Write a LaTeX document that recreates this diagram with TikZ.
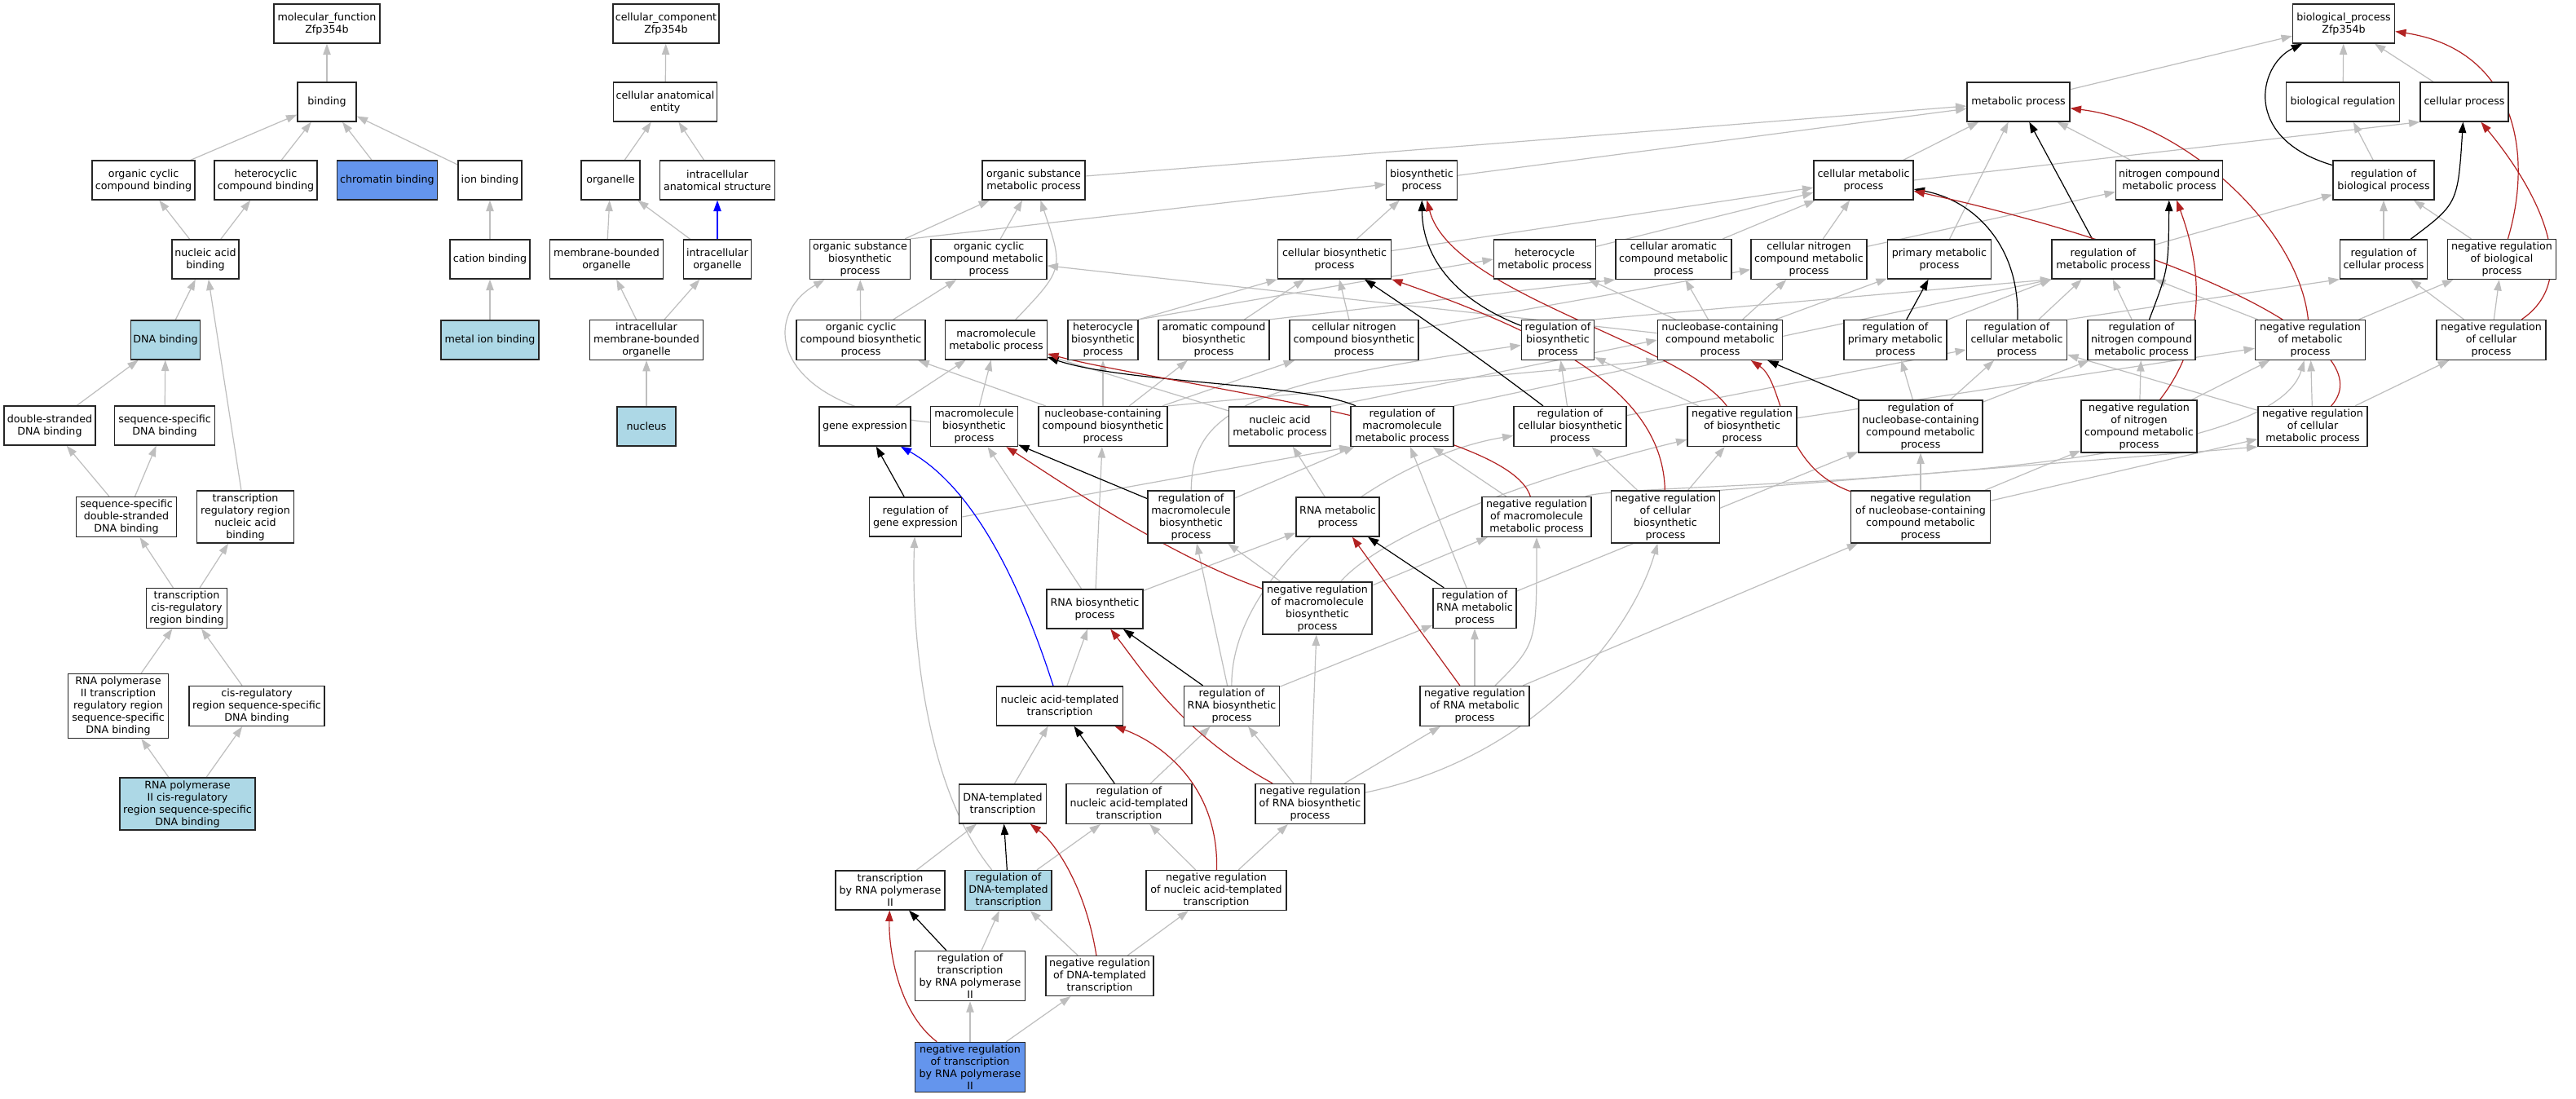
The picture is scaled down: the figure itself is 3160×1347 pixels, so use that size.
\documentclass[tikz,border=0pt]{standalone}
\usepackage{fontspec}
\setmainfont{DejaVu Sans}
\usetikzlibrary{arrows.meta,backgrounds}
\definecolor{isagray}{HTML}{BEBEBE}
\definecolor{negred}{HTML}{B22222}
\definecolor{termblue}{HTML}{ADD8E6}
\definecolor{hitblue}{HTML}{6495ED}
\begin{document}
\begin{tikzpicture}[x=0.75pt,y=-0.75pt,
  term/.style={draw=black!85,line width=1pt,fill=white,align=center,inner xsep=1pt,inner ysep=2.5pt,minimum height=36pt,font=\fontsize{9.5}{11.25}\selectfont},
  wd/.style={minimum width={#1*0.75pt}},
  isa/.style={draw=isagray,line width=0.9pt,-{Triangle[length=10pt,width=7pt]}},
  reg/.style={isa,draw=black},
  negreg/.style={isa,draw=negred},
  partof/.style={isa,draw=blue}]
\useasboundingbox (0,0) rectangle (3160,1347);
\node[term,wd=130] (mf) at (401,29) {molecular\_function\\Zfp354b};
\node[term,wd=72] (binding) at (401,125) {binding};
\node[term,wd=126] (ocb) at (176,221) {organic cyclic\\compound binding};
\node[term,wd=126] (hcb) at (326,221) {heterocyclic\\compound binding};
\node[term,wd=123,fill=hitblue] (chrom) at (475,221) {chromatin binding};
\node[term,wd=78] (ionb) at (601,221) {ion binding};
\node[term,wd=82] (nab) at (252,318) {nucleic acid\\binding};
\node[term,wd=98] (catb) at (601,318) {cation binding};
\node[term,wd=85,fill=termblue] (dnab) at (203,417) {DNA binding};
\node[term,wd=120,fill=termblue] (metb) at (601,417) {metal ion binding};
\node[term,wd=112] (dsdna) at (61,522) {double-stranded\\DNA binding};
\node[term,wd=123] (ssdna) at (202,522) {sequence-specific\\DNA binding};
\node[term,wd=123] (ssds) at (155,634) {sequence-specific\\double-stranded\\DNA binding};
\node[term,wd=119] (trrnab) at (301,634) {transcription\\regulatory region\\nucleic acid\\binding};
\node[term,wd=99] (tcrrb) at (229,746) {transcription\\cis-regulatory\\region binding};
\node[term,wd=123] (rnaptrr) at (145,866) {RNA polymerase\\II transcription\\regulatory region\\sequence-specific\\DNA binding};
\node[term,wd=166] (crrss) at (315,866) {cis-regulatory\\region sequence-specific\\DNA binding};
\node[term,wd=166,fill=termblue] (rnapcrr) at (230,986) {RNA polymerase\\II cis-regulatory\\region sequence-specific\\DNA binding};
\node[term,wd=130] (cc) at (817,29) {cellular\_component\\Zfp354b};
\node[term,wd=127] (cae) at (816,125) {cellular anatomical\\entity};
\node[term,wd=72] (orgl) at (749,221) {organelle};
\node[term,wd=141] (ias) at (880,221) {intracellular\\anatomical structure};
\node[term,wd=139] (mbo) at (744,318) {membrane-bounded\\organelle};
\node[term,wd=83] (ico) at (880,318) {intracellular\\organelle};
\node[term,wd=139] (imbo) at (793,417) {intracellular\\membrane-bounded\\organelle};
\node[term,wd=72,fill=termblue] (nucl) at (793,523) {nucleus};
\node[term,wd=125] (bp) at (2875,29) {biological\_process\\Zfp354b};
\node[term,wd=126] (metp) at (2476,125) {metabolic process};
\node[term,wd=139] (breg) at (2874,125) {biological regulation};
\node[term,wd=108] (cellp) at (3023,125) {cellular process};
\node[term,wd=126] (osmp) at (1268,221) {organic substance\\metabolic process};
\node[term,wd=87] (biop) at (1744,221) {biosynthetic\\process};
\node[term,wd=122] (cmp) at (2286,221) {cellular metabolic\\process};
\node[term,wd=131] (ncmp) at (2661,221) {nitrogen compound\\metabolic process};
\node[term,wd=124] (rbiop) at (2924,221) {regulation of\\biological process};
\node[term,wd=123] (osbp) at (1055,318) {organic substance\\biosynthetic\\process};
\node[term,wd=142] (occmp) at (1213,318) {organic cyclic\\compound metabolic\\process};
\node[term,wd=139] (cbp) at (1637,318) {cellular biosynthetic\\process};
\node[term,wd=125] (hmp) at (1895,318) {heterocycle\\metabolic process};
\node[term,wd=142] (cacmp) at (2053,318) {cellular aromatic\\compound metabolic\\process};
\node[term,wd=142] (cncmp) at (2219,318) {cellular nitrogen\\compound metabolic\\process};
\node[term,wd=127] (pmp) at (2379,318) {primary metabolic\\process};
\node[term,wd=126] (rmp) at (2580,318) {regulation of\\metabolic process};
\node[term,wd=107] (rcp) at (2924,318) {regulation of\\cellular process};
\node[term,wd=133] (nrbiop) at (3069,318) {negative regulation\\of biological\\process};
\node[term,wd=158] (occbp) at (1056,417) {organic cyclic\\compound biosynthetic\\process};
\node[term,wd=125] (mmp) at (1222,417) {macromolecule\\metabolic process};
\node[term,wd=86] (hbp) at (1353,417) {heterocycle\\biosynthetic\\process};
\node[term,wd=136] (acbp) at (1489,417) {aromatic compound\\biosynthetic\\process};
\node[term,wd=158] (cncbp) at (1661,417) {cellular nitrogen\\compound biosynthetic\\process};
\node[term,wd=89] (rbp) at (1911,417) {regulation of\\biosynthetic\\process};
\node[term,wd=153] (nbcmp) at (2110,417) {nucleobase-containing\\compound metabolic\\process};
\node[term,wd=126] (rpmp) at (2325,417) {regulation of\\primary metabolic\\process};
\node[term,wd=123] (rcmp) at (2474,417) {regulation of\\cellular metabolic\\process};
\node[term,wd=132] (rncmp) at (2627,417) {regulation of\\nitrogen compound\\metabolic process};
\node[term,wd=135] (nrmp) at (2834,417) {negative regulation\\of metabolic\\process};
\node[term,wd=134] (nrcp) at (3056,417) {negative regulation\\of cellular\\process};
\node[term,wd=112] (ge) at (1061,523) {gene expression};
\node[term,wd=107] (mbp) at (1195,523) {macromolecule\\biosynthetic\\process};
\node[term,wd=158] (nbcbp) at (1353,523) {nucleobase-containing\\compound biosynthetic\\process};
\node[term,wd=125] (namp) at (1570,523) {nucleic acid\\metabolic process};
\node[term,wd=126] (rmmp) at (1720,523) {regulation of\\macromolecule\\metabolic process};
\node[term,wd=138] (rcbp) at (1926,523) {regulation of\\cellular biosynthetic\\process};
\node[term,wd=134] (nrbp) at (2137,523) {negative regulation\\of biosynthetic\\process};
\node[term,wd=152] (rnbcmp) at (2356,523) {regulation of\\nucleobase-containing\\compound metabolic\\process};
\node[term,wd=142] (nrncmp) at (2624,523) {negative regulation\\of nitrogen\\compound metabolic\\process};
\node[term,wd=134] (nrcmp) at (2837,523) {negative regulation\\of cellular\\metabolic process};
\node[term,wd=113] (rge) at (1123,634) {regulation of\\gene expression};
\node[term,wd=106] (rmbp) at (1461,634) {regulation of\\macromolecule\\biosynthetic\\process};
\node[term,wd=102] (rnamp) at (1641,634) {RNA metabolic\\process};
\node[term,wd=134] (nrmmp) at (1885,634) {negative regulation\\of macromolecule\\metabolic process};
\node[term,wd=133] (nrcbp) at (2043,634) {negative regulation\\of cellular\\biosynthetic\\process};
\node[term,wd=171] (nrnbcmp) at (2356,634) {negative regulation\\of nucleobase-containing\\compound metabolic\\process};
\node[term,wd=118] (rnabp) at (1343,747) {RNA biosynthetic\\process};
\node[term,wd=134] (nrmbp) at (1616,746) {negative regulation\\of macromolecule\\biosynthetic\\process};
\node[term,wd=102] (rrnamp) at (1809,746) {regulation of\\RNA metabolic\\process};
\node[term,wd=155] (nat) at (1300,866) {nucleic acid-templated\\transcription};
\node[term,wd=117] (rrnabp) at (1511,866) {regulation of\\RNA biosynthetic\\process};
\node[term,wd=134] (nrrnamp) at (1809,866) {negative regulation\\of RNA metabolic\\process};
\node[term,wd=107] (dtt) at (1230,986) {DNA-templated\\transcription};
\node[term,wd=154] (rnatt) at (1385,986) {regulation of\\nucleic acid-templated\\transcription};
\node[term,wd=134] (nrrnabp) at (1607,986) {negative regulation\\of RNA biosynthetic\\process};
\node[term,wd=134] (trp2) at (1092,1092) {transcription\\by RNA polymerase\\II};
\node[term,wd=106,fill=termblue] (rdtt) at (1237,1092) {regulation of\\DNA-templated\\transcription};
\node[term,wd=172] (nrnatt) at (1492,1092) {negative regulation\\of nucleic acid-templated\\transcription};
\node[term,wd=135] (rtrp2) at (1190,1197) {regulation of\\transcription\\by RNA polymerase\\II};
\node[term,wd=132] (nrdtt) at (1349,1197) {negative regulation\\of DNA-templated\\transcription};
\node[term,wd=135,fill=hitblue] (nrtrp2) at (1190,1309) {negative regulation\\of transcription\\by RNA polymerase\\II};
\begin{pgfonlayer}{background}
\fill[white] (0,0) rectangle (3160,1347);
\foreach \a/\b in {binding/mf,ocb/binding,hcb/binding,chrom/binding,ionb/binding,nab/ocb,nab/hcb,catb/ionb,dnab/nab,metb/catb,
  dsdna/dnab,ssdna/dnab,trrnab/nab,ssds/dsdna,ssds/ssdna,tcrrb/ssds,tcrrb/trrnab,rnaptrr/tcrrb,crrss/tcrrb,rnapcrr/rnaptrr,rnapcrr/crrss,
  cae/cc,orgl/cae,ias/cae,mbo/orgl,ico/orgl,imbo/mbo,imbo/ico,nucl/imbo,
  metp/bp,breg/bp,cellp/bp,osmp/metp,biop/metp,cmp/metp,cmp.east/cellp.south west,pmp/metp,ncmp/metp,rbiop/breg,rcp/rbiop,
  nrbiop/rbiop,nrcp/rcp,nrcp/nrbiop,rmp/rbiop,osbp/osmp,osbp.north east/biop,occmp/osmp,cbp/biop,cbp/cmp,hmp/cmp,cacmp/cmp,
  cncmp/cmp,cncmp/ncmp,occbp/osbp,occbp/occmp,hbp.north east/cbp.south west,hbp.north east/hmp.west,acbp/cbp,
  acbp.north east/cacmp.south west,cncbp/cbp,cncbp/cncmp,rbp.north east/rmp.south west,nbcmp/occmp,nbcmp/hmp,nbcmp/cacmp,
  nbcmp/cncmp,nbcmp/pmp,rpmp/rmp,rcmp/rmp,rcmp.north east/rcp.south west,rncmp/rmp,nrmp/rmp,nrmp/nrbiop,
  ge/mmp,mbp/mmp,namp/mmp,nbcbp/occbp,nbcbp/hbp,nbcbp/acbp,nbcbp/cncbp,nbcbp.north east/nbcmp.south west,namp.north east/nbcmp.west,
  rmmp.north east/rmp.south west,rcbp/rbp,rcbp/rcmp,nrbp/rbp,nrbp/nrmp,rnbcmp/rpmp,rnbcmp/rcmp,rnbcmp/rncmp,nrncmp/nrmp,
  nrncmp/rncmp,nrcmp/nrmp,nrcmp/nrcp,nrcmp/rcmp,rge.east/rmmp.south west,rmbp/rmmp,rnamp/namp,nrmmp/rmmp,nrcbp/rcbp,nrcbp/nrbp,
  nrcbp.north east/nrcmp.south west,nrnbcmp/rnbcmp,nrnbcmp/nrncmp,nrnbcmp/nrcmp,rnabp/mbp,rnabp/nbcbp,rnabp/rnamp,nrmbp/rmbp,
  nrmbp/nrmmp,rrnamp/rmmp,rrnamp/rnbcmp,nat/rnabp,rrnabp/rmbp,rrnabp/rrnamp,nrrnamp/rrnamp,nrrnamp/nrnbcmp,dtt/nat,
  rnatt/rrnabp,nrrnabp/nrmbp,nrrnabp/rrnabp,nrrnabp/nrrnamp,trp2/dtt,rdtt/rnatt,nrnatt/rnatt,nrnatt/nrrnabp,rtrp2/rdtt,
  nrdtt/rdtt,nrdtt/nrnatt,nrtrp2/rtrp2,nrtrp2/nrdtt}{\draw[isa] (\a) -- (\b);}
\draw[isa] (mbp) .. controls (950,500) and (930,390) .. (osbp);
\draw[isa] (mmp) .. controls (1305,330) .. (osmp);
\draw[isa] (rmbp) .. controls (1462,500) and (1540,470) .. (rbp);
\draw[isa] (rdtt) .. controls (1130,960) and (1118,760) .. (rge);
\draw[isa] (nrmbp) .. controls (1700,650) and (1900,580) .. (nrbp);
\draw[isa] (nrmmp) .. controls (1990,590) and (2780,600) .. (nrmp);
\draw[isa] (rrnabp) .. controls (1510,700) and (1700,560) .. (rcbp);
\draw[isa] (nrrnabp) .. controls (1880,930) and (2000,780) .. (nrcbp);
\draw[isa] (nrrnamp) .. controls (1885,790) .. (nrmmp);
\foreach \a/\b in {rmp/metp,rpmp/pmp,rnbcmp/nbcmp,rge/ge,rmbp/mbp,rrnamp/rnamp,rrnabp/rnabp,rnatt/nat,rdtt/dtt,rtrp2/trp2}{\draw[reg] (\a) -- (\b);}
\draw[reg] (rbiop) .. controls (2750,170) and (2770,80) .. (bp);
\draw[reg] (rcp) .. controls (3015,250) .. (cellp);
\draw[reg] (rcmp) .. controls (2478,300) and (2420,245) .. (cmp);
\draw[reg] (rncmp) .. controls (2660,330) .. (ncmp);
\draw[reg] (rbp) .. controls (1790,370) and (1745,320) .. (biop);
\draw[reg] (rcbp) .. controls (1830,450) and (1760,400) .. (cbp);
\draw[reg] (rmmp) .. controls (1600,470) and (1380,470) .. (mmp);
\draw[negreg] (nrbiop) .. controls (3110,180) and (3080,60) .. (bp);
\draw[negreg] (nrmp) .. controls (2820,280) and (2680,150) .. (metp);
\draw[negreg] (nrcp) .. controls (3170,340) and (3110,230) .. (cellp);
\draw[negreg] (nrcmp) .. controls (2930,420) and (2650,300) .. (cmp);
\draw[negreg] (nrncmp) .. controls (2720,400) and (2690,300) .. (ncmp);
\draw[negreg] (nrbp) .. controls (2060,420) and (1780,360) .. (biop);
\draw[negreg] (nrcbp) .. controls (2040,480) and (1900,410) .. (cbp);
\draw[negreg] (nrmmp) .. controls (1850,520) and (1420,470) .. (mmp);
\draw[negreg] (nrnbcmp) .. controls (2180,570) and (2190,470) .. (nbcmp);
\draw[negreg] (nrmbp) .. controls (1430,680) and (1300,590) .. (mbp);
\draw[negreg] (nrrnamp) -- (rnamp);
\draw[negreg] (nrrnabp) .. controls (1450,900) and (1400,820) .. (rnabp);
\draw[negreg] (nrnatt) .. controls (1495,960) and (1420,910) .. (nat);
\draw[negreg] (nrdtt) .. controls (1330,1080) and (1290,1030) .. (dtt);
\draw[negreg] (nrtrp2) .. controls (1100,1240) and (1090,1160) .. (trp2);
\draw[partof] (ico) -- (ias);
\draw[partof] (nat) .. controls (1240,680) and (1180,590) .. (ge);
\end{pgfonlayer}
\end{tikzpicture}
\end{document}
